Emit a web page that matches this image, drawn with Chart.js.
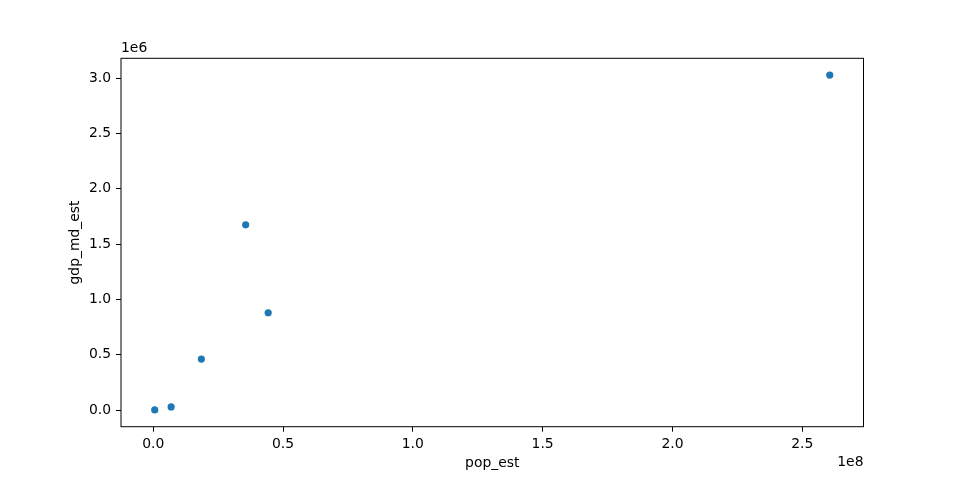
<!DOCTYPE html>
<html>
<head>
<meta charset="utf-8">
<script src="https://cdn.jsdelivr.net/npm/chart.js@4"></script>
<style>
  html, body { margin: 0; padding: 0; background: #fff; }
  #wrap { width: 960px; height: 480px; }
</style>
</head>
<body>
<div id="wrap"><canvas id="scatterChart" width="960" height="480"></canvas></div>
<script>
// countries: W. Sahara, Papua New Guinea, Kazakhstan, Canada, Argentina, Indonesia
const popEst = [603253, 6909701, 18556698, 35623680, 44293293, 260580739];
const gdpMdEst = [906.5, 28020, 460700, 1674000, 879400, 3028000];
const xTicks = [0, 0.5e8, 1.0e8, 1.5e8, 2.0e8, 2.5e8];
const yTicks = [0, 0.5e6, 1.0e6, 1.5e6, 2.0e6, 2.5e6, 3.0e6];

const FONT = "'DejaVu Sans', sans-serif";

// full box round the plot + the offset labels (1e6 / 1e8)
const framePlugin = {
  id: 'frame',
  afterDraw(chart) {
    const {ctx, chartArea: a} = chart;
    ctx.save();
    ctx.strokeStyle = '#000';
    ctx.lineWidth = 1;
    ctx.strokeRect(a.left, a.top, a.right - a.left, a.bottom - a.top);
    ctx.fillStyle = '#000';
    ctx.font = '13.9px ' + FONT;
    ctx.textBaseline = 'middle';
    ctx.textAlign = 'left';
    ctx.fillText('1e6', a.left, 48);
    ctx.textAlign = 'right';
    ctx.fillText('1e8', a.right, 462);
    ctx.restore();
  }
};

document.addEventListener('DOMContentLoaded', function() {
  const ctx = document.getElementById('scatterChart').getContext('2d');
  new Chart(ctx, {
    type: 'scatter',
    data: {
      datasets: [{
        data: popEst.map((p, i) => ({x: p, y: gdpMdEst[i]})),
        backgroundColor: '#1f77b4',
        borderWidth: 0,
        pointRadius: 3.6,
        pointHoverRadius: 3.6
      }]
    },
    options: {
      responsive: false,
      animation: false,
      layout: {
        padding: {left: 60, right: 96.5, top: 58.3, bottom: 0}
      },
      plugins: {
        legend: {display: false},
        tooltip: {enabled: false}
      },
      scales: {
        x: {
          type: 'linear',
          min: -12396000,
          max: 273580000,
          afterFit: function(scale) { scale.height = 53.3; },
          afterBuildTicks: function(scale) { scale.ticks = xTicks.map(v => ({value: v})); },
          border: {display: false},
          grid: {display: true, drawOnChartArea: false, drawTicks: true, tickLength: 5, color: '#000'},
          ticks: {
            color: '#000',
            padding: 4,
            maxRotation: 0,
            font: {family: FONT, size: 13.9},
            callback: v => (v / 1e8).toFixed(1)
          },
          title: {
            display: true,
            text: 'pop_est',
            color: '#000',
            font: {family: FONT, size: 13.9},
            padding: {top: 0, bottom: 8.6}
          }
        },
        y: {
          type: 'linear',
          min: -150448,
          max: 3179355,
          afterFit: function(scale) { scale.width = 61; },
          afterBuildTicks: function(scale) { scale.ticks = yTicks.map(v => ({value: v})); },
          border: {display: false},
          grid: {display: true, drawOnChartArea: false, drawTicks: true, tickLength: 5, color: '#000'},
          ticks: {
            color: '#000',
            padding: 5,
            font: {family: FONT, size: 13.9},
            callback: v => (v / 1e6).toFixed(1)
          },
          title: {
            display: true,
            text: 'gdp_md_est',
            color: '#000',
            font: {family: FONT, size: 13.9},
            padding: {top: 6.6, bottom: 0}
          }
        }
      }
    },
    plugins: [framePlugin]
  });
});
</script>
</body>
</html>
